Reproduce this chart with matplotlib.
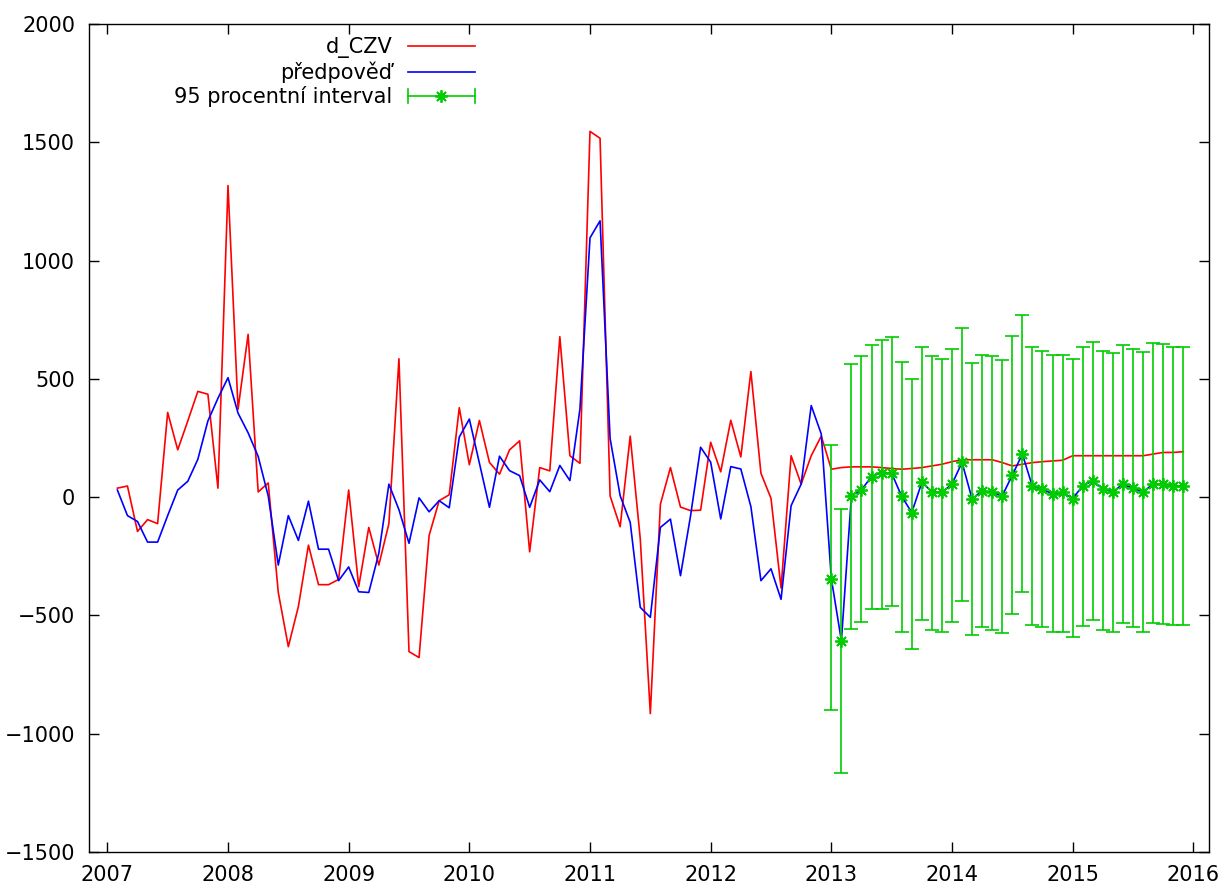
import matplotlib
matplotlib.use("Agg")
import matplotlib.pyplot as plt
import numpy as np
from matplotlib.legend_handler import HandlerBase
from matplotlib.lines import Line2D

# ---- data ----
start_year, start_month = 2007, 2   # first observation 2007:02, monthly to 2015:12

d_czv = [
    # 2007 (Feb-Dec)
    38, 47, -145, -95, -112, 358, 200, 322, 447, 435, 38,
    # 2008
    1317, 372, 688, 22, 60, -403, -632, -462, -203, -370, -370, -348,
    # 2009
    30, -378, -128, -287, -112, 585, -653, -678, -162, -15, 10, 378,
    # 2010
    137, 324, 147, 97, 200, 238, -231, 125, 111, 678, 175, 143,
    # 2011
    1546, 1517, 5, -125, 258, -177, -915, -30, 125, -42, -57, -55,
    # 2012
    232, 107, 325, 170, 531, 101, -5, -384, 175, 55, 175, 258,
    # 2013
    118, 125, 128, 128, 128, 125, 121, 118, 121, 125, 132, 139,
    # 2014
    150, 158, 158, 158, 158, 146, 132, 139, 146, 150, 153, 156,
    # 2015
    175, 175, 175, 175, 175, 175, 175, 175, 182, 189, 189, 192,
]

predpoved_fit = [
    # 2007 (Feb-Dec)
    30, -78, -103, -190, -190, -78, 30, 67, 160, 322, 418,
    # 2008
    505, 355, 272, 172, 5, -287, -78, -183, -17, -220, -220, -353,
    # 2009
    -295, -400, -403, -237, 55, -53, -195, -3, -62, -15, -45, 254,
    # 2010
    330, 144, -43, 173, 112, 91, -43, 73, 23, 134, 70, 372,
    # 2011
    1096, 1168, 248, 6, -107, -466, -508, -128, -93, -332, -79, 211,
    # 2012
    148, -92, 129, 119, -40, -353, -303, -432, -36, 55, 387, 267,
]

forecast = [
    -344, -607, 6, 31, 87, 104, 101, 3, -65, 62, 23, 20,
    55, 147, -8, 27, 20, 6, 93, 182, 45, 34, 13, 20,
    -6, 48, 69, 34, 23, 55, 37, 23, 55, 55, 48, 48,
]
interval_upper = [
    220, -51, 562, 595, 643, 665, 675, 572, 499, 633, 595, 586,
    626, 713, 569, 602, 595, 579, 682, 769, 633, 619, 602, 602,
    586, 633, 657, 619, 609, 643, 626, 612, 651, 647, 633, 633,
]
interval_lower = [
    -900, -1164, -558, -527, -471, -471, -462, -568, -640, -520, -561, -568,
    -527, -441, -584, -551, -561, -575, -495, -400, -541, -551, -572, -568,
    -590, -544, -520, -561, -568, -534, -551, -572, -534, -537, -541, -541,
]

x_ticks = list(range(2007, 2017))
y_ticks = list(range(-1500, 2001, 500))

labels = ["d_CZV", "předpověď", "95 procentní interval"]

# ---- build time axis ----
n_all = len(d_czv)
t_all = np.array([start_year + (start_month - 1 + i) / 12.0 for i in range(n_all)])
pred_all = np.array(predpoved_fit + forecast, dtype=float)
n_fc = len(forecast)
t_fc = t_all[-n_fc:]
fc = np.array(forecast, dtype=float)
up = np.array(interval_upper, dtype=float)
lo = np.array(interval_lower, dtype=float)

RED = "#ff0000"
BLUE = "#0000ff"
GREEN = "#00cc00"
STAR = (8, 2, 0)

plt.rcParams["font.family"] = ["DejaVu Sans"]
plt.rcParams["font.size"] = 15

fig = plt.figure(figsize=(12.27, 8.88), dpi=100)
ax = fig.add_axes([89 / 1227, 1 - 852 / 888, (1209 - 89) / 1227, (852 - 24) / 888])

l_red, = ax.plot(t_all, d_czv, color=RED, lw=1.2, zorder=2)
l_blue, = ax.plot(t_all, pred_all, color=BLUE, lw=1.2, zorder=3)
eb = ax.errorbar(t_fc, fc, yerr=[fc - lo, up - fc], fmt="none", ecolor=GREEN,
                 elinewidth=1.2, capsize=5, capthick=1.2, zorder=4)
ax.plot(t_fc, fc, ls="none", marker=STAR, ms=9, mec=GREEN, mew=1.3, zorder=5)

ax.set_xlim(2006.848, 2016.13)
ax.set_ylim(-1500, 2000)
ax.set_xticks(x_ticks)
ax.set_yticks(y_ticks)
ax.tick_params(direction="in", length=7, width=1, top=True, right=True,
               labelsize=15, colors="black")
ax.tick_params(axis="y", pad=10)
ax.tick_params(axis="x", pad=9)
for s in ax.spines.values():
    s.set_linewidth(1.0)


class HandlerErrH(HandlerBase):
    def create_artists(self, legend, orig_handle, xdescent, ydescent,
                       width, height, fontsize, trans):
        y = height / 2 - ydescent
        x0, x1 = -xdescent, width - xdescent
        cap = 5.0
        arts = [
            Line2D([x0, x1], [y, y], color=GREEN, lw=1.2),
            Line2D([x0, x0], [y - cap, y + cap], color=GREEN, lw=1.2),
            Line2D([x1, x1], [y - cap, y + cap], color=GREEN, lw=1.2),
            Line2D([(x0 + x1) / 2], [y], ls="none", marker=STAR, ms=9,
                   mec=GREEN, mew=1.3),
        ]
        for a in arts:
            a.set_transform(trans)
        return arts


leg = ax.legend([l_red, l_blue, eb], labels, handler_map={type(eb): HandlerErrH()},
                loc="upper right", bbox_to_anchor=(0.35, 0.9915), frameon=False,
                markerfirst=False, handlelength=3.2, handletextpad=0.75,
                labelspacing=0.15, borderaxespad=0, borderpad=0.3, fontsize=15)

fig.savefig("out.png", dpi=100)
